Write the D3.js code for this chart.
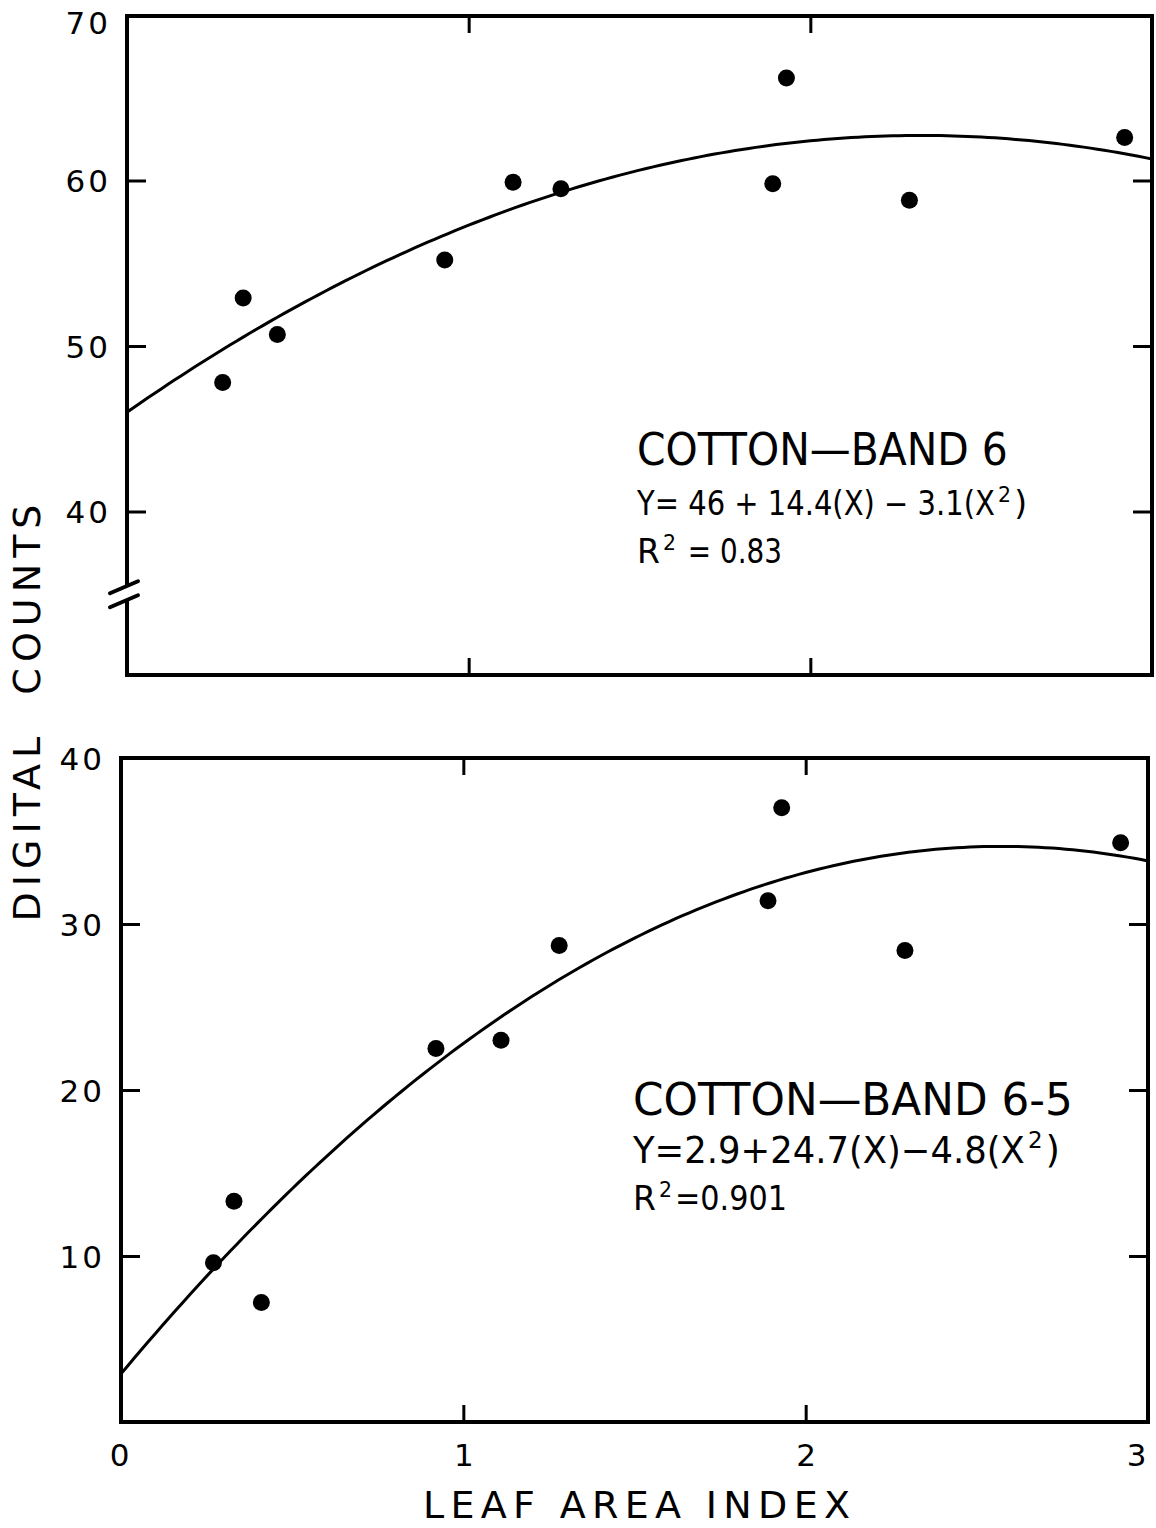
<!DOCTYPE html>
<html>
<head>
<meta charset="utf-8">
<script src="https://cdn.jsdelivr.net/npm/d3@7"></script>
<style>
  html, body { margin: 0; padding: 0; background: #fff; }
  svg { display: block; }
  text { font-family: "DejaVu Sans", sans-serif; fill: #000; white-space: pre; }
</style>
</head>
<body>
<script>
// ---------------- DATA ----------------
const xTicks = [0, 1, 2, 3];
const xTickLabels = ["0", "1", "2", "3"];

// Top panel: Cotton - Band 6
const band6LAI    = [0.28, 0.34, 0.44, 0.93, 1.13, 1.27, 1.89, 1.93, 2.29, 2.92];
const band6Counts = [47.8, 52.9, 50.7, 55.2, 59.9, 59.5, 59.8, 66.2, 58.8, 62.6];
const band6Coef   = [46, 14.4, -3.1];
const band6YTicks = [40, 50, 60, 70];
const band6Title  = "COTTON\u2014BAND 6";
const band6Eq     = ["Y= 46 + 14.4(X) \u2212 3.1(X", "2", ")"];
const band6R2     = ["R", "2", " = 0.83"];

// Bottom panel: Cotton - Band 6-5
const band65LAI    = [0.27, 0.33, 0.41, 0.92, 1.11, 1.28, 1.89, 1.93, 2.29, 2.92];
const band65Counts = [9.6, 13.3, 7.2, 22.5, 23.0, 28.7, 31.4, 37.0, 28.4, 34.9];
const band65Coef   = [2.9, 24.7, -4.8];
const band65YTicks = [10, 20, 30, 40];
const band65Title  = "COTTON\u2014BAND 6-5";
const band65Eq     = ["Y=2.9+24.7(X)\u22124.8(X", "2", ")"];
const band65R2     = ["R", "2", "=0.901"];

const yAxisTitle = "DIGITAL  COUNTS";
const xAxisTitle = "LEAF AREA INDEX";

// ---------------- LAYOUT ----------------
const W = 1156, H = 1528;
const svg = d3.select("body").append("svg").attr("width", W).attr("height", H);

const panels = [
  {
    lai: band6LAI, counts: band6Counts, coef: band6Coef,
    yDomain: [30, 70], yRange: [677, 15], yTicks: band6YTicks,
    leftTicks: [40, 50, 60], rightTicks: [40, 50, 60],
    xRange: [127, 1152], frameBottom: 675, frameTop: 16,
    brk: 35,
    title: band6Title, eq: band6Eq, r2: band6R2,
    tx: 637, tBase: 465, tLen: 371, tFs: 44,
    eBase: 515, eLen: 390, eFs: 33,
    rBase: 563, rLen: 145, rFs: 33
  },
  {
    lai: band65LAI, counts: band65Counts, coef: band65Coef,
    yDomain: [0, 40], yRange: [1422, 758], yTicks: band65YTicks,
    leftTicks: [10, 20, 30], rightTicks: [10, 20, 30],
    xRange: [121, 1148], frameBottom: 1422, frameTop: 758,
    brk: null,
    title: band65Title, eq: band65Eq, r2: band65R2,
    tx: 633, tBase: 1115, tLen: 440, tFs: 44,
    eBase: 1163, eLen: 427, eFs: 37,
    rBase: 1210, rLen: 154, rFs: 33
  }
];

// text squeezed horizontally to a given width via a scale transform
function fitText(g, str, x, base, fs, len) {
  const t = g.append("text").attr("x", 0).attr("y", 0).attr("font-size", fs).text(str);
  const nat = t.node().getComputedTextLength();
  const s = len / nat;
  t.attr("transform", `translate(${x},${base}) scale(${s},1)`);
  return t;
}

// text with a superscript, built from three text elements placed side by side
function supText(g, parts, xStart, base, fs, totalLen) {
  const gap = 3;
  const sup = g.append("text").attr("y", base - fs * 0.4).attr("font-size", fs * 0.62).text(parts[1]);
  const supW = sup.node().getComputedTextLength();
  if (parts[2] === ")") {
    const cl = g.append("text").attr("y", base).attr("font-size", fs).text(parts[2]);
    const clW = cl.node().getComputedTextLength();
    const l1 = totalLen - supW - clW - 2 * gap;
    fitText(g, parts[0], xStart, base, fs, l1);
    sup.attr("x", xStart + l1 + gap);
    cl.attr("x", xStart + l1 + gap + supW + gap);
  } else {
    const t1 = g.append("text").attr("x", xStart).attr("y", base).attr("font-size", fs).text(parts[0]);
    const w1 = t1.node().getComputedTextLength();
    sup.attr("x", xStart + w1 + gap);
    const x3 = xStart + w1 + gap + supW + gap;
    fitText(g, parts[2], x3, base, fs, xStart + totalLen - x3);
  }
}

panels.forEach((p, i) => {
  const x = d3.scaleLinear().domain([0, 3]).range(p.xRange);
  const y = d3.scaleLinear().domain(p.yDomain).range(p.yRange);
  const g = svg.append("g");
  const x0 = p.xRange[0], x1 = p.xRange[1];
  const yT = p.frameTop, yB = p.frameBottom;

  const line = (a, b, c, d) => g.append("line")
    .attr("x1", a).attr("y1", b).attr("x2", c).attr("y2", d)
    .attr("stroke", "#000").attr("stroke-width", 4).attr("stroke-linecap", "square");
  line(x0, yT, x1, yT);
  line(x1, yT, x1, yB);
  line(x0, yB, x1, yB);
  if (p.brk != null) {
    const yb = y(p.brk);
    line(x0, yT, x0, yb - 10);
    line(x0, yb + 8, x0, yB);
    [-7, 7].forEach(o => {
      g.append("line")
        .attr("x1", x0 - 17).attr("y1", yb + o + 6)
        .attr("x2", x0 + 11).attr("y2", yb + o - 6)
        .attr("stroke", "#000").attr("stroke-width", 4).attr("stroke-linecap", "round");
    });
  } else {
    line(x0, yT, x0, yB);
  }

  // left axis
  const leftAxis = d3.axisLeft(y).tickValues(p.yTicks).tickSizeInner(-19).tickSizeOuter(0).tickPadding(16)
    .tickFormat(d3.format("d"));
  const la = g.append("g").attr("transform", `translate(${x0},0)`).call(leftAxis);
  la.select(".domain").remove();
  la.selectAll(".tick line").attr("stroke", "#000").attr("stroke-width", 3)
    .attr("display", d => p.leftTicks.includes(d) ? null : "none");
  la.selectAll(".tick text").style("font-family", '"DejaVu Sans", sans-serif')
    .attr("font-size", 31).attr("fill", "#000").attr("letter-spacing", 3)
    .attr("dy", d => (i === 0 && d === 70) ? "0.6em" : "0.36em");

  // right axis
  const rightAxis = d3.axisRight(y).tickValues(p.rightTicks).tickSizeInner(-19).tickSizeOuter(0).tickFormat("");
  const ra = g.append("g").attr("transform", `translate(${x1},0)`).call(rightAxis);
  ra.select(".domain").remove();
  ra.selectAll(".tick line").attr("stroke", "#000").attr("stroke-width", 3);

  // top axis
  const topAxis = d3.axisTop(x).tickValues([1, 2]).tickSizeInner(-17).tickSizeOuter(0).tickFormat("");
  const ta = g.append("g").attr("transform", `translate(0,${yT})`).call(topAxis);
  ta.select(".domain").remove();
  ta.selectAll(".tick line").attr("stroke", "#000").attr("stroke-width", 3);

  // bottom axis
  const botAxis = d3.axisBottom(x).tickValues(i === 1 ? xTicks : [1, 2]).tickSizeInner(-17).tickSizeOuter(0)
    .tickPadding(22).tickFormat((d) => i === 1 ? xTickLabels[xTicks.indexOf(d)] : "");
  const ba = g.append("g").attr("transform", `translate(0,${yB})`).call(botAxis);
  ba.select(".domain").remove();
  ba.selectAll(".tick line").attr("stroke", "#000").attr("stroke-width", 3)
    .attr("display", d => (d === 1 || d === 2) ? null : "none");
  ba.selectAll(".tick text").style("font-family", '"DejaVu Sans", sans-serif')
    .attr("font-size", 31).attr("fill", "#000");
  if (i === 1) {
    ba.selectAll(".tick text").attr("dx", d => d === 3 ? -12 : (d === 0 ? -2 : 0));
  }

  // fitted curve (regression equation shown on the chart)
  const clipId = "clip" + i;
  svg.append("clipPath").attr("id", clipId).append("rect")
    .attr("x", x0).attr("y", yT).attr("width", x1 - x0).attr("height", yB - yT);
  const xs = d3.range(0, 3.0001, 0.02);
  const curve = d3.line().x(d => x(d)).y(d => y(p.coef[0] + p.coef[1] * d + p.coef[2] * d * d));
  g.append("path").datum(xs).attr("d", curve).attr("fill", "none")
    .attr("stroke", "#000").attr("stroke-width", 3).attr("clip-path", `url(#${clipId})`);

  // points
  g.selectAll("circle.pt").data(p.lai.map((v, k) => [v, p.counts[k]])).enter()
    .append("circle").attr("class", "pt")
    .attr("cx", d => x(d[0])).attr("cy", d => y(d[1])).attr("r", 8.5).attr("fill", "#000");

  // annotation
  fitText(g, p.title, p.tx, p.tBase, p.tFs, p.tLen);
  supText(g, p.eq, p.tx, p.eBase, p.eFs, p.eLen);
  supText(g, p.r2, p.tx, p.rBase, p.rFs, p.rLen);
});

// axis titles
svg.append("text")
  .attr("transform", "translate(40,713) rotate(-90)")
  .attr("text-anchor", "middle").attr("font-size", 38)
  .attr("textLength", 417).attr("lengthAdjust", "spacing")
  .attr("x", 0).attr("y", 0)
  .text(yAxisTitle);

svg.append("text")
  .attr("x", 423).attr("y", 1518).attr("font-size", 38)
  .attr("textLength", 427).attr("lengthAdjust", "spacing")
  .text(xAxisTitle);
</script>
</body>
</html>
